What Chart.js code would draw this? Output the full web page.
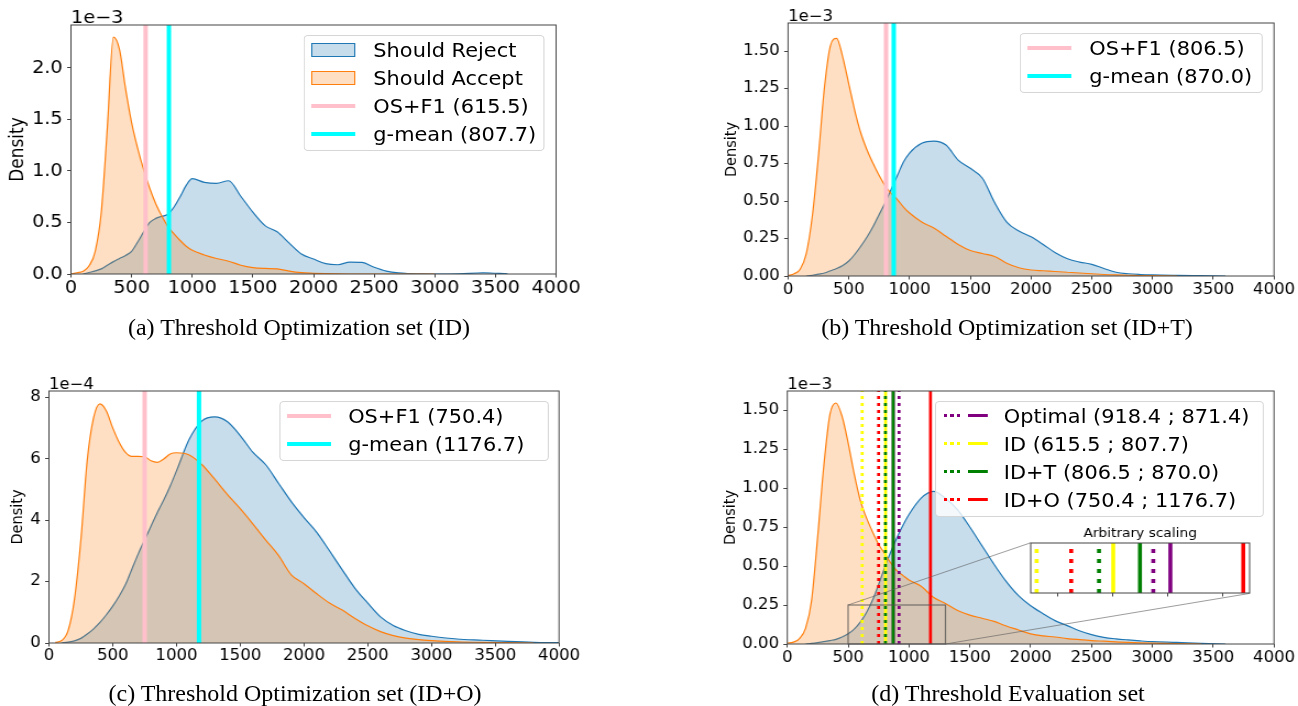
<!DOCTYPE html>
<html lang="en">
<head>
<meta charset="UTF-8">
<title>Threshold density plots</title>
<script src="https://cdn.jsdelivr.net/npm/chart.js@4.4.1/dist/chart.umd.min.js"></script>
<style>
    body {
        margin: 0;
        width: 1298px;
        height: 706px;
        overflow: hidden;
        background: #fff;
        font-family: "DejaVu Sans", sans-serif;
    }
    /* the figure in the paper is stretched ~10% horizontally */
    #fig {
        position: absolute;
        left: 0;
        top: 0;
        width: 1180px;
        height: 706px;
        transform: scaleX(1.1);
        transform-origin: 0 0;
    }
    #fig canvas { position: absolute; }
    .legend {
        position: absolute;
        box-sizing: border-box;
        background: rgba(255, 255, 255, 0.8);
        border: 1px solid rgba(204, 204, 204, 0.8);
        border-radius: 4px;
        padding: 0 0 2px 0;
        font-size: 19px;
        color: #000;
    }
    .row { position: relative; height: 28px; white-space: nowrap; }
    .row .sw { position: absolute; top: 50%; box-sizing: border-box; }
    .row .txt { position: absolute; left: 62px; top: 0; line-height: 28px; }
    .caption {
        position: absolute;
        width: 600px;
        text-align: center;
        line-height: 30px;
        font-family: "Liberation Serif", "Times New Roman", serif;
        font-size: 24px;
        color: #000;
    }
</style>
</head>
<body>

<div id="fig"></div>

<div class="caption" style="left:-1px; top:312px;">(a) Threshold Optimization set (ID)</div>
<div class="caption" style="left:707px; top:312px;">(b) Threshold Optimization set (ID+T)</div>
<div class="caption" style="left:-5px; top:678px;">(c) Threshold Optimization set (ID+O)</div>
<div class="caption" style="left:708px; top:678px;">(d) Threshold Evaluation set</div>

<script>
    // shared x grid of the KDE curves
    const xGrid = [0, 50, 100, 150, 200, 250, 300, 350, 400, 450, 500, 550, 600, 650, 700, 750, 800, 850, 900, 950,
                   1000, 1100, 1200, 1300, 1400, 1500, 1600, 1700, 1800, 1900, 2000, 2100, 2200, 2300, 2400, 2500,
                   2600, 2700, 2800, 2900, 3000, 3200, 3400, 3600, 3800, 4000];

    // (a) ID, density in 1e-3
    const rejectA = [null, null, 0.0, 0.015, 0.03, 0.05, 0.085, 0.12, 0.15, 0.18, 0.22, 0.31, 0.41, 0.50, 0.54, 0.56, 0.58, 0.65, 0.75, 0.86,
                     0.925, 0.89, 0.88, 0.905, 0.755, 0.60, 0.47, 0.41, 0.30, 0.195, 0.145, 0.10, 0.09, 0.115, 0.112, 0.065,
                     0.028, 0.01, 0.004, 0.001, 0.0, 0.002, 0.012, 0.001, null, null];
    const acceptA = [0.0, 0.012, 0.026, 0.08, 0.22, 0.6, 1.42, 2.30, 2.18, 1.80, 1.47, 1.22, 1.01, 0.83, 0.68, 0.56, 0.46, 0.39, 0.325, 0.27,
                     0.23, 0.185, 0.15, 0.124, 0.085, 0.062, 0.054, 0.05, 0.028, 0.013, 0.007, 0.003, 0.001, 0, 0, 0,
                     0, 0, 0, 0, 0, null, null, null, null, null];

    // (b) ID+T, density in 1e-3
    const rejectB = [null, null, null, 0.0, 0.005, 0.012, 0.02, 0.035, 0.05, 0.07, 0.10, 0.145, 0.20, 0.26, 0.33, 0.41, 0.49, 0.58, 0.67, 0.76,
                     0.82, 0.885, 0.90, 0.873, 0.773, 0.718, 0.652, 0.49, 0.36, 0.30, 0.261, 0.21, 0.155, 0.115, 0.093, 0.078,
                     0.05, 0.025, 0.015, 0.01, 0.007, 0.004, 0.002, 0.0, null, null];
    const acceptB = [0.003, 0.015, 0.045, 0.15, 0.40, 0.80, 1.26, 1.54, 1.585, 1.46, 1.28, 1.10, 0.95, 0.84, 0.75, 0.67, 0.60, 0.55, 0.51, 0.46,
                     0.42, 0.36, 0.32, 0.265, 0.21, 0.17, 0.15, 0.13, 0.085, 0.055, 0.04, 0.035, 0.03, 0.025, 0.02, 0.015,
                     0.01, 0.007, 0.005, 0.003, 0.002, 0.0, null, null, null, null];

    // (c) ID+O, density in 1e-4
    const rejectC = [null, null, 0.0, 0.03, 0.07, 0.15, 0.29, 0.46, 0.67, 0.92, 1.2, 1.52, 1.9, 2.4, 2.9, 3.35, 3.8, 4.25, 4.65, 5.1,
                     5.6, 6.63, 7.23, 7.36, 7.2, 6.75, 6.2, 5.8, 5.2, 4.6, 4.08, 3.6, 3.0, 2.38, 1.78, 1.3,
                     0.85, 0.57, 0.4, 0.28, 0.22, 0.13, 0.09, 0.05, 0.02, 0.01];
    const acceptC = [null, 0.02, 0.08, 0.4, 1.42, 3.35, 5.94, 7.33, 7.78, 7.55, 7.0, 6.53, 6.2, 6.07, 6.07, 6.06, 5.93, 5.88, 5.99, 6.15,
                     6.19, 6.12, 5.8, 5.33, 4.83, 4.37, 3.87, 3.35, 2.85, 2.22, 1.93, 1.6, 1.3, 1.07, 0.8, 0.56,
                     0.37, 0.24, 0.16, 0.11, 0.08, 0.04, 0.02, 0.01, 0.0, null];

    // (d) evaluation set, density in 1e-3
    const rejectD = [null, null, null, 0.0, 0.004, 0.009, 0.015, 0.022, 0.03, 0.045, 0.065, 0.095, 0.14, 0.2, 0.28, 0.38, 0.49, 0.59, 0.68, 0.76,
                     0.83, 0.935, 0.978, 0.934, 0.86, 0.75, 0.63, 0.51, 0.40, 0.31, 0.245, 0.195, 0.15, 0.118, 0.085, 0.06,
                     0.043, 0.033, 0.026, 0.02, 0.015, 0.01, 0.004, 0.0, null, null];
    const acceptD = [0.005, 0.012, 0.035, 0.1, 0.28, 0.69, 1.14, 1.47, 1.545, 1.46, 1.29, 1.09, 0.92, 0.81, 0.72, 0.64, 0.58, 0.52, 0.47, 0.44,
                     0.41, 0.37, 0.30, 0.26, 0.215, 0.185, 0.165, 0.145, 0.115, 0.09, 0.065, 0.052, 0.045, 0.035, 0.028, 0.022,
                     0.018, 0.014, 0.01, 0.007, 0.005, 0.002, 0.0, null, null, null];

    // thresholds for (a), (b), (c)
    const osF1 = [615.5, 806.5, 750.4];
    const gMean = [807.7, 870.0, 1176.7];

    // (d) thresholds per source: dotted = OS+F1, solid = g-mean
    const methods = ["Optimal", "ID", "ID+T", "ID+O"];
    const methodColors = ["#800080", "#ffff00", "#008000", "#ff0000"];
    const evalDotted = [918.4, 615.5, 806.5, 750.4];
    const evalSolid = [871.4, 807.7, 870.0, 1176.7];

    // inset "Arbitrary scaling" positions (0-100)
    const insetDotted = [56.0, 2.7, 31.2, 18.5];
    const insetSolid = [63.8, 37.7, 49.9, 97.1];
    const insetTicks = [12.5, 37.5, 62.5, 87.5];
    const zoomBox = [500, 1300, 0, 0.25];

    // axes
    const xTickValues = [0, 500, 1000, 1500, 2000, 2500, 3000, 3500, 4000];
    const xTickLabels = ["0", "500", "1000", "1500", "2000", "2500", "3000", "3500", "4000"];
    const yMaxes = [2.417, 1.687, 8.2, 1.622];
    const yTicksA = [0, 0.5, 1.0, 1.5, 2.0];
    const yLabelsA = ["0.0", "0.5", "1.0", "1.5", "2.0"];
    const yTicksB = [0, 0.25, 0.5, 0.75, 1.0, 1.25, 1.5];
    const yLabelsB = ["0.00", "0.25", "0.50", "0.75", "1.00", "1.25", "1.50"];
    const yTicksC = [0, 2, 4, 6, 8];
    const yLabelsC = ["0", "2", "4", "6", "8"];

    const BLUE = "#1f77b4", BLUE_FILL = "rgba(31,119,180,0.25)";
    const ORANGE = "#ff7f0e", ORANGE_FILL = "rgba(255,127,14,0.25)";
    const PINK = "#ffc0cb", CYAN = "#00ffff";
    const FONT = '"DejaVu Sans", sans-serif';
    const insetFrac = [0.5, 0.2, 0.45, 0.2];

    const fig = document.getElementById("fig");

    // frame, offset text and small titles
    const framePlugin = {
        id: "frame",
        beforeDraw(chart, args, opts) {
            if (!opts.white) return;
            const a = chart.chartArea, ctx = chart.ctx;
            ctx.save();
            ctx.fillStyle = "#fff";
            ctx.fillRect(a.left, a.top, a.right - a.left, a.bottom - a.top);
            ctx.restore();
        },
        afterDatasetsDraw(chart, args, opts) {
            const a = chart.chartArea, ctx = chart.ctx;
            ctx.save();
            ctx.strokeStyle = "#444";
            ctx.lineWidth = 1;
            ctx.strokeRect(a.left, a.top, a.right - a.left, a.bottom - a.top);
            ctx.fillStyle = "#000";
            if (opts.offset) {
                ctx.font = opts.fontSize + "px " + FONT;
                ctx.textAlign = "left";
                ctx.textBaseline = "alphabetic";
                ctx.fillText(opts.offset, a.left, a.top - 2);
            }
            if (opts.title) {
                ctx.font = opts.fontSize + "px " + FONT;
                ctx.textAlign = "center";
                ctx.textBaseline = "middle";
                ctx.fillText(opts.title, (a.left + a.right) / 2, a.top - 9);
            }
            ctx.restore();
        }
    };

    // zoom rectangle and connectors to the inset of (d)
    const zoomPlugin = {
        id: "zoomBox",
        afterDatasetsDraw(chart, args, opts) {
            if (!opts.box) return;
            const ctx = chart.ctx, a = chart.chartArea;
            const xs = chart.scales.x, ys = chart.scales.y;
            const l = xs.getPixelForValue(opts.box[0]), r = xs.getPixelForValue(opts.box[1]);
            const b = ys.getPixelForValue(opts.box[2]), t = ys.getPixelForValue(opts.box[3]);
            const w = a.right - a.left, h = a.bottom - a.top;
            const il = a.left + insetFrac[0] * w, ir = il + insetFrac[2] * w;
            const ib = a.bottom - insetFrac[1] * h, it = ib - insetFrac[3] * h;
            ctx.save();
            ctx.strokeStyle = "rgba(80,80,80,0.75)";
            ctx.lineWidth = 1.2;
            ctx.strokeRect(l, t, r - l, b - t);
            ctx.strokeStyle = "rgba(90,90,90,0.6)";
            ctx.lineWidth = 1;
            ctx.beginPath();
            ctx.moveTo(l, t); ctx.lineTo(il, it);
            ctx.moveTo(r, b); ctx.lineTo(ir, ib);
            ctx.stroke();
            ctx.restore();
        }
    };

    function kde(values, color, fill, order) {
        return {
            data: xGrid.map((x, i) => ({ x: x, y: values[i] })),
            borderColor: color,
            backgroundColor: fill,
            borderWidth: 1.2,
            fill: "origin",
            pointRadius: 0,
            cubicInterpolationMode: "monotone",
            spanGaps: false,
            order: order
        };
    }

    function vline(x, yTop, color, width, dash, order) {
        return {
            data: [{ x: x, y: 0 }, { x: x, y: yTop }],
            borderColor: color,
            borderWidth: width,
            borderDash: dash || [],
            borderCapStyle: "butt",
            pointRadius: 0,
            fill: false,
            order: order
        };
    }

    function makeCanvas(left, top, w, h) {
        const c = document.createElement("canvas");
        c.width = w;
        c.height = h;
        c.style.left = left + "px";
        c.style.top = top + "px";
        fig.appendChild(c);
        return c;
    }

    function makePanel(p, datasets, extra) {
        const [cl, ct, cw, ch] = p.box;
        const [al, at, ar, ab] = p.area;
        const canvas = makeCanvas(cl, ct, cw, ch);
        const tickFont = { family: FONT, size: p.tick };
        return new Chart(canvas, {
            type: "line",
            data: { datasets: datasets },
            options: {
                responsive: false,
                animation: false,
                events: [],
                layout: { padding: { left: 0, top: at - ct, right: cl + cw - ar, bottom: 0 } },
                plugins: {
                    legend: { display: false },
                    tooltip: { enabled: false },
                    frame: { offset: p.offset, fontSize: p.tick },
                    zoomBox: extra || {}
                },
                scales: {
                    x: {
                        type: "linear",
                        min: 0,
                        max: 4000,
                        afterBuildTicks: s => { s.ticks = xTickValues.map(v => ({ value: v })); },
                        afterFit: s => { s.height = ct + ch - ab; },
                        ticks: { font: tickFont, color: "#000", padding: p.xPad, maxRotation: 0, autoSkip: false,
                                 callback: (v, i) => xTickLabels[i] },
                        grid: { drawOnChartArea: false, tickLength: 3.5, tickColor: "#444" },
                        border: { display: false }
                    },
                    y: {
                        type: "linear",
                        min: 0,
                        max: p.yMax,
                        afterBuildTicks: s => { s.ticks = p.yTicks.map(v => ({ value: v })); },
                        afterFit: s => { s.width = al - cl; },
                        ticks: { font: tickFont, color: "#000", padding: 4, callback: (v, i) => p.yLabels[i] },
                        grid: { drawOnChartArea: false, tickLength: 3.5, tickColor: "#444" },
                        border: { display: false },
                        title: { display: true, text: "Density", color: "#000",
                                 font: { family: FONT, size: p.titleSize }, padding: { top: p.titlePad, bottom: 0 } }
                    }
                }
            },
            plugins: [framePlugin, zoomPlugin]
        });
    }

    function addLegend(left, top, width, items) {
        const box = document.createElement("div");
        box.className = "legend";
        box.style.left = left + "px";
        box.style.top = top + "px";
        box.style.width = width + "px";
        items.forEach(it => {
            const row = document.createElement("div");
            row.className = "row";
            it.swatches.forEach(s => {
                const sw = document.createElement("span");
                sw.className = "sw";
                Object.assign(sw.style, s);
                row.appendChild(sw);
            });
            const t = document.createElement("span");
            t.className = "txt";
            t.textContent = it.label;
            row.appendChild(t);
            box.appendChild(row);
        });
        fig.appendChild(box);
    }

    const patch = (c, f) => ({ left: "6px", width: "40px", height: "14px", marginTop: "-7px", background: f, border: "1px solid " + c });
    const bar = c => ({ left: "6px", width: "40px", height: "4px", marginTop: "-2px", background: c });
    const dots = c => ({ left: "7px", width: "15px", height: "3px", marginTop: "-1.5px",
                         background: "repeating-linear-gradient(90deg, " + c + " 0 3px, transparent 3px 6px)" });
    const solid = c => ({ left: "29px", width: "18px", height: "3px", marginTop: "-1.5px", background: c });
    const lab = (name, v) => name + " (" + v.toFixed(1) + ")";

    // (a)
    makePanel(
        { box: [0, 0, 540, 310], area: [64.5, 25, 505.5, 274], yMax: yMaxes[0], yTicks: yTicksA, yLabels: yLabelsA,
          tick: 17.5, titleSize: 17, titlePad: 6, xPad: 0, offset: "1e\u22123" },
        [kde(acceptA, ORANGE, ORANGE_FILL, 2), kde(rejectA, BLUE, BLUE_FILL, 3),
         vline(osF1[0], yMaxes[0], PINK, 4, null, 1), vline(gMean[0], yMaxes[0], CYAN, 4, null, 0)]
    );
    addLegend(276.4, 35, 219, [
        { label: "Should Reject", swatches: [patch(BLUE, BLUE_FILL)] },
        { label: "Should Accept", swatches: [patch(ORANGE, ORANGE_FILL)] },
        { label: lab("OS+F1", osF1[0]), swatches: [bar(PINK)] },
        { label: lab("g-mean", gMean[0]), swatches: [bar(CYAN)] }
    ]);

    // (b)
    makePanel(
        { box: [650, 0, 530, 310], area: [716.4, 23, 1158.2, 276], yMax: yMaxes[1], yTicks: yTicksB, yLabels: yLabelsB,
          tick: 15, titleSize: 14.5, titlePad: 6.8, xPad: 2, offset: "1e\u22123" },
        [kde(acceptB, ORANGE, ORANGE_FILL, 2), kde(rejectB, BLUE, BLUE_FILL, 3),
         vline(osF1[1], yMaxes[1], PINK, 4, null, 1), vline(gMean[1], yMaxes[1], CYAN, 4, null, 0)]
    );
    addLegend(927.3, 33, 220.6, [
        { label: lab("OS+F1", osF1[1]), swatches: [bar(PINK)] },
        { label: lab("g-mean", gMean[1]), swatches: [bar(CYAN)] }
    ]);

    // (c)
    makePanel(
        { box: [0, 360, 540, 320], area: [44.5, 391, 508.2, 643], yMax: yMaxes[2], yTicks: yTicksC, yLabels: yLabelsC,
          tick: 15, titleSize: 14.5, titlePad: 8, xPad: 1, offset: "1e\u22124" },
        [kde(acceptC, ORANGE, ORANGE_FILL, 2), kde(rejectC, BLUE, BLUE_FILL, 3),
         vline(osF1[2], yMaxes[2], PINK, 4, null, 1), vline(gMean[2], yMaxes[2], CYAN, 4, null, 0)]
    );
    addLegend(253.5, 400.7, 245, [
        { label: lab("OS+F1", osF1[2]), swatches: [bar(PINK)] },
        { label: lab("g-mean", gMean[2]), swatches: [bar(CYAN)] }
    ]);

    // (d)
    const dLines = [];
    methods.forEach((m, i) => {
        dLines.push(vline(evalDotted[i], yMaxes[3], methodColors[i], 2.7, [3, 4], 9 - 2 * i));
        dLines.push(vline(evalSolid[i], yMaxes[3], methodColors[i], 2.7, null, 8 - 2 * i));
    });
    const dBox = [650, 360, 530, 320];
    const chartD = makePanel(
        { box: dBox, area: [715.7, 391, 1158.2, 644], yMax: yMaxes[3], yTicks: yTicksB, yLabels: yLabelsB,
          tick: 15, titleSize: 14.5, titlePad: 5.8, xPad: 2, offset: "1e\u22123" },
        [kde(acceptD, ORANGE, ORANGE_FILL, 11), kde(rejectD, BLUE, BLUE_FILL, 12)].concat(dLines),
        { box: zoomBox }
    );
    addLegend(849.5, 400.7, 299, methods.map((m, i) => ({
        label: m + " (" + evalDotted[i].toFixed(1) + " ; " + evalSolid[i].toFixed(1) + ")",
        swatches: [dots(methodColors[i]), solid(methodColors[i])]
    })));

    // inset with arbitrary scaling
    const a = chartD.chartArea;
    const aw = a.right - a.left, ah = a.bottom - a.top;
    const il = dBox[0] + a.left + insetFrac[0] * aw;
    const iw = insetFrac[2] * aw;
    const ib = dBox[1] + a.bottom - insetFrac[1] * ah;
    const ih = insetFrac[3] * ah;
    const padL = 10, padT = 22, padB = 8;
    const insetCanvas = makeCanvas(il - padL, ib - ih - padT, iw + 2 * padL, ih + padT + padB);
    const insetSets = [];
    methods.forEach((m, i) => {
        insetSets.push(vline(insetDotted[i], 1, methodColors[i], 3.6, [4, 6], 2 * i + 1));
        insetSets.push(vline(insetSolid[i], 1, methodColors[i], 3.6, null, 2 * i));
    });
    new Chart(insetCanvas, {
        type: "line",
        data: { datasets: insetSets },
        options: {
            responsive: false,
            animation: false,
            events: [],
            layout: { padding: { left: padL, top: padT, right: padL, bottom: 0 } },
            plugins: {
                legend: { display: false },
                tooltip: { enabled: false },
                frame: { white: true, title: "Arbitrary scaling", fontSize: 12.5 }
            },
            scales: {
                x: {
                    type: "linear",
                    min: 0,
                    max: 100,
                    afterBuildTicks: s => { s.ticks = insetTicks.map(v => ({ value: v })); },
                    afterFit: s => { s.height = padB; },
                    ticks: { display: false },
                    grid: { drawOnChartArea: false, tickLength: 3.5, tickColor: "#444" },
                    border: { display: false }
                },
                y: { type: "linear", min: 0, max: 1, display: false }
            }
        },
        plugins: [framePlugin]
    });
</script>

</body>
</html>
